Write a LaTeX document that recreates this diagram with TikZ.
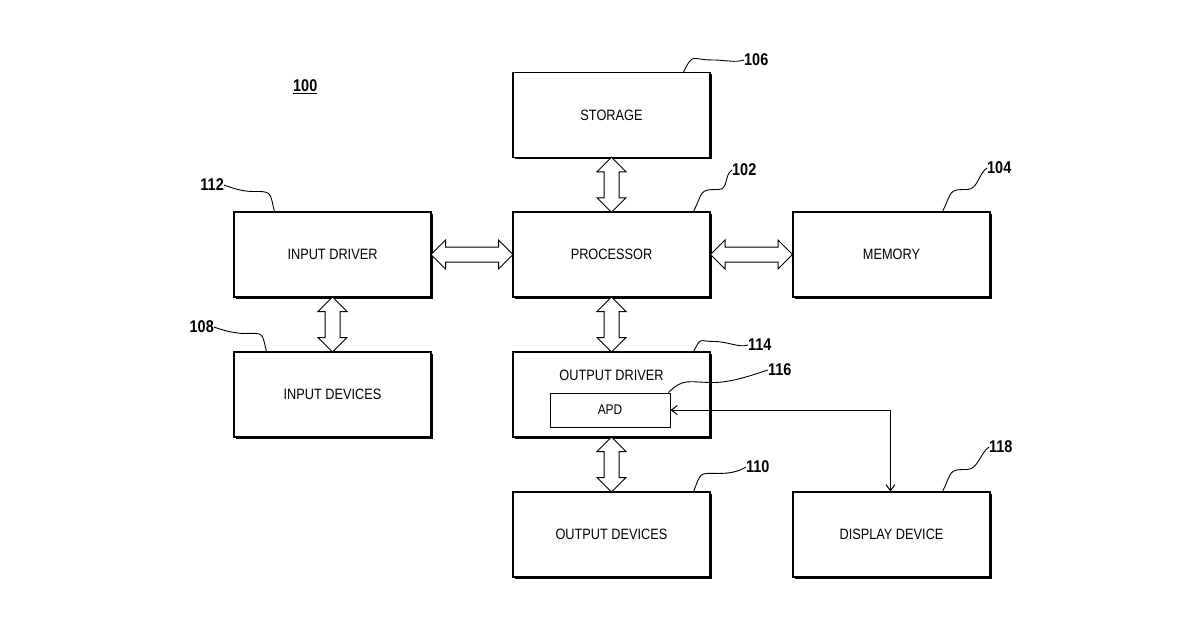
\documentclass[tikz,border=0pt]{standalone}
\usepackage{fontspec}
\setmainfont{Liberation Sans}[FakeStretch=0.85]
\usetikzlibrary{shapes.arrows,shadows,arrows.meta,calc}
\begin{document}
\begin{tikzpicture}[x=1pt,y=-1pt,
  box/.style={draw,fill=white,line width=1.1pt,minimum width=197pt,minimum height=85pt,
    font=\fontsize{15}{17}\selectfont,
    drop shadow={shadow xshift=1.6pt,shadow yshift=-1.6pt,fill=black,opacity=1}},
  dbl/.style={double arrow,draw,fill=white,line width=1pt,inner sep=7pt,
    double arrow head extend=7pt,double arrow head indent=0pt,minimum height=#1,text=white},
  lead/.style={line width=0.9pt},
  num/.style={font=\fontsize{17}{19}\selectfont\bfseries,anchor=west,inner sep=0pt}]
\useasboundingbox (0,0) rectangle (1200,630);
\node[box] (sto) at (611.5,115) {STORAGE};
\node[box] (pro) at (611.5,254.5) {PROCESSOR};
\node[box] (mem) at (891.5,254.5) {MEMORY};
\node[box] (ind) at (332.5,254.5) {INPUT DRIVER};
\node[box] (inv) at (332.5,394.5) {INPUT DEVICES};
\node[box,text height=0pt] (out) at (611.5,394.5) {};
\node[font=\fontsize{15}{17}\selectfont,anchor=base] (outl) at (611.5,380) {OUTPUT DRIVER};
\node[draw,line width=1pt,minimum width=120pt,minimum height=34pt,font=\fontsize{14}{16}\selectfont] (apd) at (610,410) {APD};
\node[box] (ouv) at (611.5,534.5) {OUTPUT DEVICES};
\node[box] (dis) at (891.5,534.5) {DISPLAY DEVICE};
% block arrows
\node[dbl=55pt,rotate=90] (a1) at ($(sto.south)!0.5!(pro.north)$) {};
\node[dbl=55pt,rotate=90] (a2) at ($(pro.south)!0.5!(out.north)$) {};
\node[dbl=55pt,rotate=90] (a3) at ($(out.south)!0.5!(ouv.north)$) {};
\node[dbl=55pt,rotate=90] (a4) at ($(ind.south)!0.5!(inv.north)$) {};
\node[dbl=82pt] (a5) at ($(ind.east)!0.5!(pro.west)$) {};
\node[dbl=82pt] (a6) at ($(pro.east)!0.5!(mem.west)$) {};
% APD link
\coordinate (dtop) at ($(dis.north west)+(98,0)$);
\draw[line width=1pt,{Straight Barb[length=6pt,width=9pt]}-{Straight Barb[length=6pt,width=9pt]}] (apd.east) -| (dtop);
% labels
\node[num] (n100) at (293,87) {\underline{100}};
\node[num] (n106) at (744,60) {106};
\node[num] (n102) at (732,170) {102};
\node[num] (n104) at (987,168) {104};
\node[num,anchor=east] (n112) at (224,185) {112};
\node[num,anchor=east] (n108) at (214,327) {108};
\node[num] (n114) at (748,345) {114};
\node[num] (n116) at (768,370) {116};
\node[num] (n110) at (746,467) {110};
\node[num] (n118) at (989,447) {118};
% leaders
\draw[lead] ($(sto.north east)+(-27,0)$) .. controls +(10,-20) and +(-20,0) .. ++(28,-12) .. controls +(15,0) and +(-10,3) .. (n106.west);
\draw[lead] ($(pro.north east)+(-17,0)$) .. controls +(10,-20) and +(-20,0) .. ++(25,-22) .. controls +(10,0) and +(-8,5) .. (n102.west);
\draw[lead] ($(mem.north east)+(-48,0)$) .. controls +(10,-20) and +(-20,0) .. ++(25,-22) .. controls +(10,0) and +(-8,5) .. (n104.west);
\draw[lead] ($(ind.north west)+(41,0)$) .. controls +(-5,-20) and +(20,0) .. ++(-22,-20) .. controls +(-10,0) and +(8,3) .. (n112.east);
\draw[lead] ($(inv.north west)+(33,0)$) .. controls +(-5,-20) and +(20,0) .. ++(-22,-18) .. controls +(-10,0) and +(8,3) .. (n108.east);
\draw[lead] ($(out.north east)+(-17,0)$) .. controls +(8,-15) and +(-15,0) .. ++(20,-10) .. controls +(15,0) and +(-10,3) .. (n114.west);
\draw[lead] ($(apd.north east)+(-2,0)$) .. controls +(15,-15) and +(-25,0) .. ++(45,-10) .. controls +(20,0) and +(-10,3) .. (n116.west);
\draw[lead] ($(ouv.north east)+(-17,0)$) .. controls +(8,-20) and +(-20,0) .. ++(25,-18) .. controls +(10,0) and +(-8,5) .. (n110.west);
\draw[lead] ($(dis.north east)+(-48,0)$) .. controls +(10,-20) and +(-20,0) .. ++(25,-22) .. controls +(10,0) and +(-8,5) .. (n118.west);
\end{tikzpicture}
\end{document}
